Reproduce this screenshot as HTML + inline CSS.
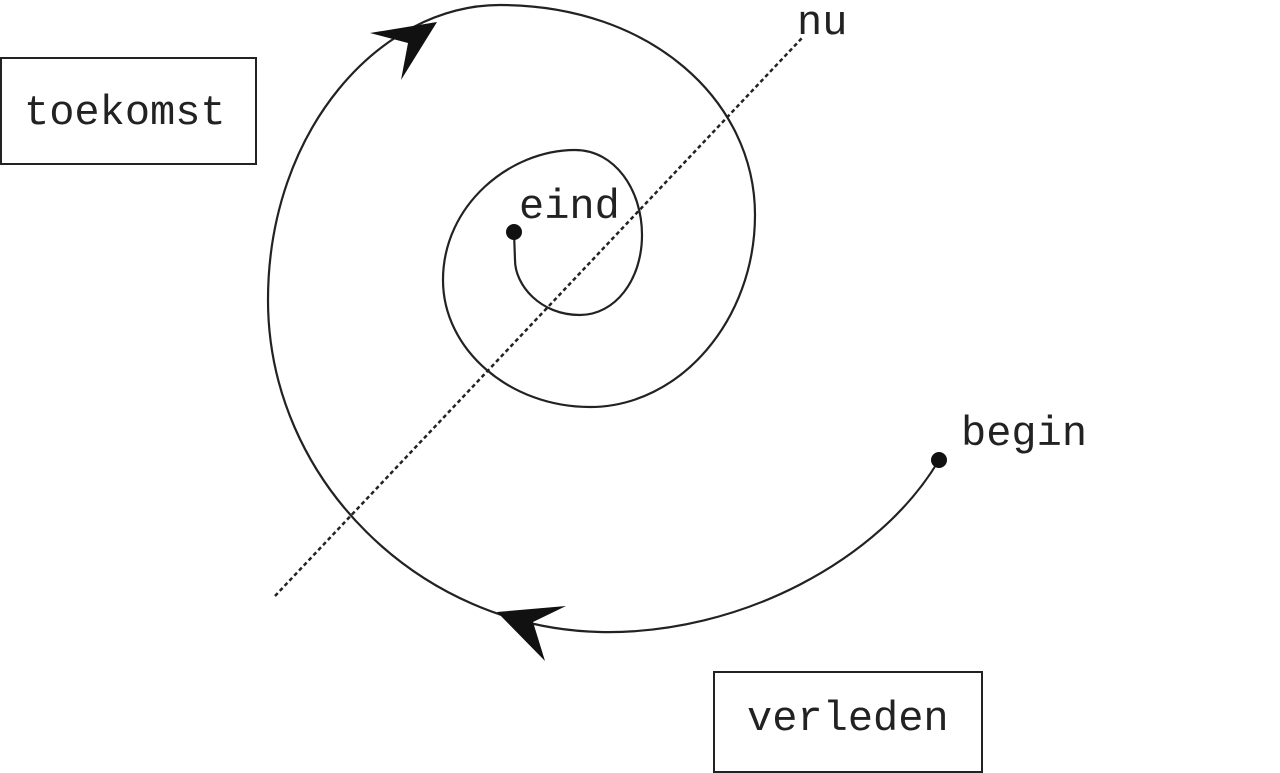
<!DOCTYPE html>
<html><head><meta charset="utf-8"><style>
html,body{margin:0;padding:0;background:#fff;}
svg{display:block}
text{font-family:"Liberation Mono",monospace;font-size:42px;fill:#222;}
</style></head><body>
<svg width="1280" height="773" viewBox="0 0 1280 773" xmlns="http://www.w3.org/2000/svg">
<rect x="1" y="58" width="255" height="106" fill="none" stroke="#222" stroke-width="2"/>
<rect x="714" y="672" width="268" height="100" fill="none" stroke="#222" stroke-width="2"/>
<text x="24" y="124">toekomst</text>
<text x="747" y="730">verleden</text>
<text x="797" y="34">nu</text>
<text x="961" y="445">begin</text>
<text x="519" y="218">eind</text>
<line x1="275" y1="596" x2="802" y2="38" stroke="#222" stroke-width="2.5" stroke-dasharray="4,3"/>
<path d="M939,460 C880,560 740,635 600,632 C420,628 268,480 268,300 C268,130 380,5 500,5 C650,5 755,100 755,215 C755,320 680,407 590,407 C510,407 443,350 443,280 C443,205 510,150 575,150 C615,150 642,190 642,235 C642,280 615,315 580,315 C540,315 515,285 515,260 L514,232" fill="none" stroke="#222" stroke-width="2.2"/>
<circle cx="939" cy="460" r="8" fill="#111"/>
<circle cx="514" cy="232" r="8" fill="#111"/>
<path d="M497,612 L566,606 L533,622 L545,661 Z" fill="#111"/>
<path d="M437,22 L401,80 L408,43 L370,33 Z" fill="#111"/>
</svg>
</body></html>
